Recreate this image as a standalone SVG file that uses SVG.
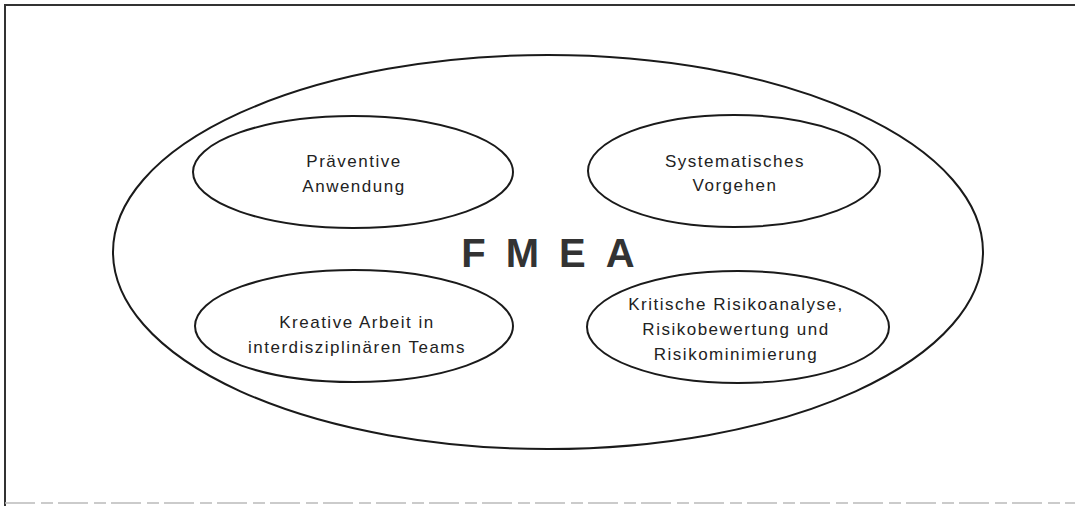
<svg xmlns="http://www.w3.org/2000/svg" width="1075" height="506" viewBox="0 0 1075 506">
<style>
.frame{fill:none;stroke:#333;stroke-width:2}
.shape{fill:none;stroke:#1a1a1a;stroke-width:2}
.lbl{font-family:"Liberation Sans",Arial,sans-serif;font-size:17px;fill:#222;text-anchor:middle;letter-spacing:1.5px}
.title{font-family:"Liberation Sans",Arial,sans-serif;font-size:40px;font-weight:bold;fill:#333;text-anchor:middle;letter-spacing:20px}
</style>
<rect width="1075" height="506" fill="#fff"/>
<path class="frame" d="M1075,5 H5 V506"/>
<line x1="5" y1="503" x2="1075" y2="503" stroke="#bbb" stroke-width="1.5" stroke-dasharray="30 6 12 5"/>
<g id="fmea">
<ellipse class="shape" cx="548" cy="252" rx="435" ry="197"/>
<text class="title" x="558" y="267">FMEA</text>
</g>
<g id="praeventive">
<ellipse class="shape" cx="353" cy="172" rx="160" ry="56"/>
<text class="lbl" x="354" y="167">Präventive</text>
<text class="lbl" x="354" y="192">Anwendung</text>
</g>
<g id="systematisch">
<ellipse class="shape" cx="734" cy="171" rx="146" ry="56"/>
<text class="lbl" x="735" y="167">Systematisches</text>
<text class="lbl" x="735" y="191">Vorgehen</text>
</g>
<g id="kreativ">
<ellipse class="shape" cx="354" cy="326" rx="159" ry="56"/>
<text class="lbl" x="357" y="328">Kreative Arbeit in</text>
<text class="lbl" x="357" y="353">interdisziplinären Teams</text>
</g>
<g id="kritisch">
<ellipse class="shape" cx="738" cy="327" rx="151" ry="56"/>
<text class="lbl" x="736" y="310">Kritische Risikoanalyse,</text>
<text class="lbl" x="736" y="335">Risikobewertung und</text>
<text class="lbl" x="736" y="360">Risikominimierung</text>
</g>
<g id="connectors"/>
</svg>
